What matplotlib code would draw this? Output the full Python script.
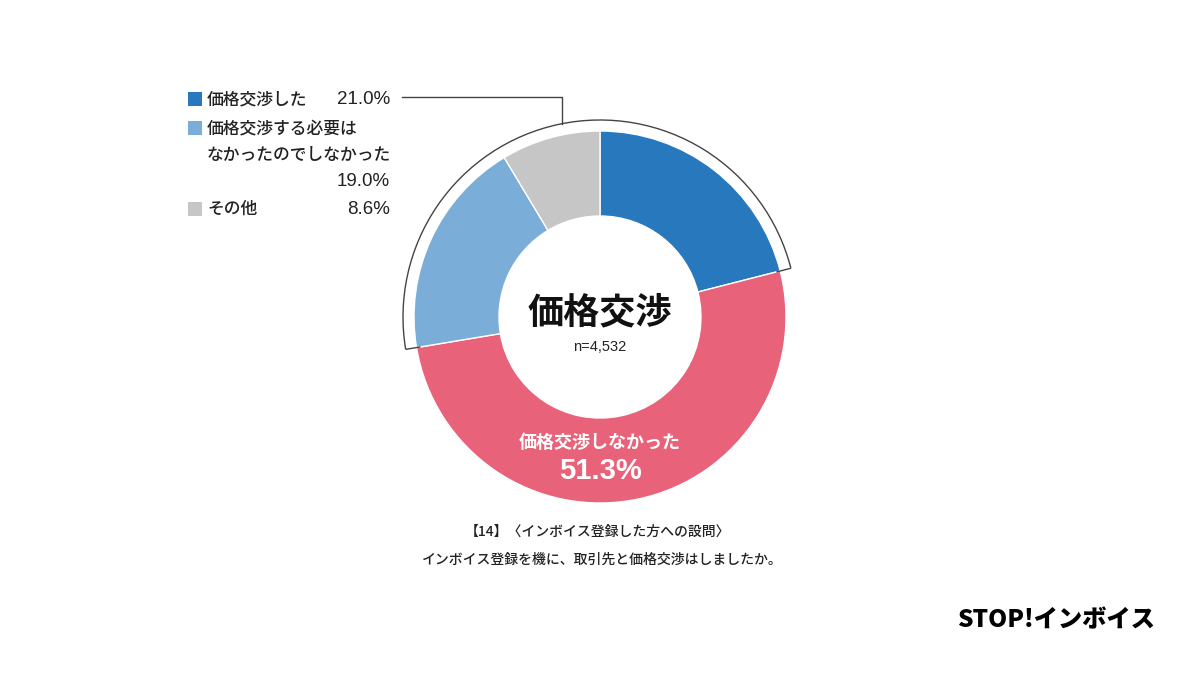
import matplotlib
matplotlib.use("Agg")
import matplotlib.pyplot as plt
from matplotlib.patches import Arc
import numpy as np

plt.rcParams['font.family'] = ['Noto Sans CJK JP', 'DejaVu Sans']

# ---- data ----
categories = ["価格交渉した", "価格交渉しなかった", "価格交渉する必要は\nなかったのでしなかった", "その他"]
values = [21.0, 51.3, 19.0, 8.6]
colors = ["#2878be", "#e8627a", "#7aaed9", "#c6c6c6"]
legend_items = [0, 2, 3]
pct_labels = ["21.0%", "51.3%", "19.0%", "8.6%"]
center_title = "価格交渉"
sample_size = "n=4,532"
footer_lines = ["【14】〈インボイス登録した方への設問〉", "インボイス登録を機に、取引先と価格交渉はしましたか。"]
logo_text = "STOP!インボイス"

W, H = 1200, 675
fig = plt.figure(figsize=(12, 6.75), dpi=100)
ax = fig.add_axes([0, 0, 1, 1])
ax.set_xlim(0, W)
ax.set_ylim(0, H)
ax.set_aspect('equal')
ax.axis('off')

cx, cy = 600, H - 317
R_out, R_in = 186, 101

wedges, _ = ax.pie(values, colors=colors, startangle=90, counterclock=False,
                   radius=R_out, center=(cx, cy), normalize=True,
                   wedgeprops=dict(width=R_out - R_in, edgecolor='white', linewidth=1.0))
ax.set_xlim(0, W)
ax.set_ylim(0, H)

# bracket arc over all but the "did not negotiate" slice
total = sum(values)
ang_end = 90 - 360 * values[0] / total
ang_start = ang_end - 360 * values[1] / total + 360
R_arc = 197
arc = Arc((cx, cy), 2 * R_arc, 2 * R_arc, theta1=ang_end, theta2=ang_start,
          color='#444444', lw=1.0)
ax.add_patch(arc)
for a in (ang_end, ang_start):
    t = np.deg2rad(a)
    ax.plot([cx + R_arc * np.cos(t), cx + (R_out - 4) * np.cos(t)],
            [cy + R_arc * np.sin(t), cy + (R_out - 4) * np.sin(t)],
            color='#444444', lw=1.0, solid_capstyle='butt')

# connector to legend
x_conn = 562
y_arc = cy + np.sqrt(R_arc**2 - (x_conn - cx)**2)
ax.plot([x_conn, x_conn, 402], [y_arc, H - 97, H - 97], color='#444444', lw=1.0)

# legend
fs = 12.1
sq = 14
num_font = ['Liberation Sans', 'DejaVu Sans']
leg_rows = [
    (99, [("価格交渉した", 99)], (pct_labels[0], 99)),
    (128, [("価格交渉する必要は", 128), ("なかったのでしなかった", 155)], (pct_labels[2], 181)),
    (209, [(categories[3], 209)], (pct_labels[3], 209)),
]
for idx, (ysq, lines, pct) in zip(legend_items, leg_rows):
    ax.add_patch(plt.Rectangle((188, H - ysq - sq / 2), sq, sq, color=colors[idx], lw=0))
    for txt, yy in lines:
        ax.text(207, H - yy, txt, fontsize=fs, ha='left', va='center', color='#222222',
                fontweight='medium')
    ax.text(390, H - pct[1], pct[0], fontsize=13.5, ha='right', va='center', color='#222222',
            family=num_font)

# centre text
ax.text(cx, H - 313, center_title, fontsize=26, fontweight='bold', ha='center', va='center',
        color='#111111')
ax.text(cx, H - 347, sample_size, fontsize=10.5, ha='center', va='center', color='#222222',
        family=num_font)

# label inside the pink slice
ax.text(cx, H - 442, categories[1], fontsize=13, fontweight='bold', ha='center', va='center',
        color='white')
ax.text(cx, H - 471, pct_labels[1], fontsize=21, fontweight='bold', ha='center', va='center',
        color='white', family=num_font)

# footer
ax.text(597, H - 532, footer_lines[0], fontsize=10, ha='center', va='center', color='#222222',
        fontweight='medium')
ax.text(602, H - 560, footer_lines[1], fontsize=10, ha='center', va='center', color='#222222',
        fontweight='medium')

# logo
ax.text(1056, H - 620, logo_text, fontsize=17.5, fontweight='heavy', ha='center', va='center',
        color='black')

fig.savefig("out.png", dpi=100, facecolor='white')
